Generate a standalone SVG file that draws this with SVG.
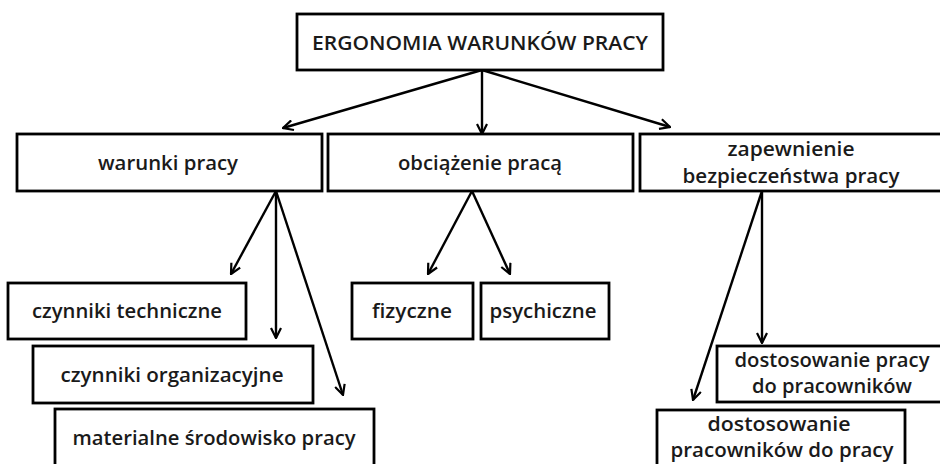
<svg xmlns="http://www.w3.org/2000/svg" width="940" height="464" viewBox="0 0 940 464">
<style>
.box{fill:#fff;stroke:#000;stroke-width:2.8}
.t{font-family:"Open Sans","Liberation Sans",sans-serif;font-weight:600;font-size:19px;fill:#1a1a1a;text-anchor:middle}
.c{stroke:#000;stroke-width:2.4;fill:none;marker-end:url(#ah)}
</style>
<defs>
<marker id="ah" viewBox="0 0 12 12" markerWidth="12" markerHeight="12" refX="11" refY="6" orient="auto" markerUnits="userSpaceOnUse">
<path d="M1,1 L11,6 L1,11" fill="none" stroke="#000" stroke-width="2.2"/>
</marker>
</defs>
<rect width="940" height="464" fill="#fff"/>
<g id="connectors">
<line class="c" x1="482" y1="70" x2="283" y2="128"/>
<line class="c" x1="482" y1="70" x2="482" y2="134"/>
<line class="c" x1="482" y1="70" x2="670" y2="127"/>
<line class="c" x1="276" y1="191" x2="231" y2="274"/>
<line class="c" x1="276" y1="191" x2="276" y2="338"/>
<line class="c" x1="276" y1="191" x2="343" y2="395"/>
<line class="c" x1="472" y1="191" x2="428" y2="274"/>
<line class="c" x1="472" y1="191" x2="510" y2="274"/>
<line class="c" x1="762" y1="191" x2="762" y2="343"/>
<line class="c" x1="762" y1="191" x2="693" y2="400"/>
</g>
<g id="ergonomia">
<rect class="box" x="297" y="14" width="366" height="56"/>
<text class="t" x="480" y="50" font-size="21" textLength="336" lengthAdjust="spacingAndGlyphs">ERGONOMIA WARUNKÓW PRACY</text>
</g>
<g id="warunki">
<rect class="box" x="17" y="134" width="305" height="57"/>
<text class="t" x="168" y="170" textLength="140" lengthAdjust="spacingAndGlyphs">warunki pracy</text>
</g>
<g id="obciazenie">
<rect class="box" x="328" y="134" width="305" height="57"/>
<text class="t" x="480" y="170" textLength="164" lengthAdjust="spacingAndGlyphs">obciążenie pracą</text>
</g>
<g id="zapewnienie">
<rect class="box" x="640" y="134" width="310" height="57"/>
<text class="t" x="791" y="156" textLength="127" lengthAdjust="spacingAndGlyphs">zapewnienie</text>
<text class="t" x="791" y="183" textLength="217" lengthAdjust="spacingAndGlyphs">bezpieczeństwa pracy</text>
</g>
<g id="techniczne">
<rect class="box" x="8" y="283" width="238" height="56"/>
<text class="t" x="127" y="318" textLength="190" lengthAdjust="spacingAndGlyphs">czynniki techniczne</text>
</g>
<g id="organizacyjne">
<rect class="box" x="33" y="346" width="280" height="57"/>
<text class="t" x="172" y="382" textLength="223" lengthAdjust="spacingAndGlyphs">czynniki organizacyjne</text>
</g>
<g id="materialne">
<rect class="box" x="55" y="409" width="319" height="70"/>
<text class="t" x="214" y="445" textLength="283" lengthAdjust="spacingAndGlyphs">materialne środowisko pracy</text>
</g>
<g id="fizyczne">
<rect class="box" x="352" y="283" width="121" height="56"/>
<text class="t" x="412" y="318" textLength="80" lengthAdjust="spacingAndGlyphs">fizyczne</text>
</g>
<g id="psychiczne">
<rect class="box" x="481" y="283" width="128" height="56"/>
<text class="t" x="543" y="318" textLength="107" lengthAdjust="spacingAndGlyphs">psychiczne</text>
</g>
<g id="dostosowanie-pracy">
<rect class="box" x="717" y="346" width="240" height="56"/>
<text class="t" x="832" y="367" textLength="195" lengthAdjust="spacingAndGlyphs">dostosowanie pracy</text>
<text class="t" x="832" y="393" textLength="160" lengthAdjust="spacingAndGlyphs">do pracowników</text>
</g>
<g id="dostosowanie-pracownikow">
<rect class="box" x="657" y="410" width="248" height="70"/>
<text class="t" x="779" y="431" textLength="143" lengthAdjust="spacingAndGlyphs">dostosowanie</text>
<text class="t" x="782" y="457" textLength="223" lengthAdjust="spacingAndGlyphs">pracowników do pracy</text>
</g>
</svg>
